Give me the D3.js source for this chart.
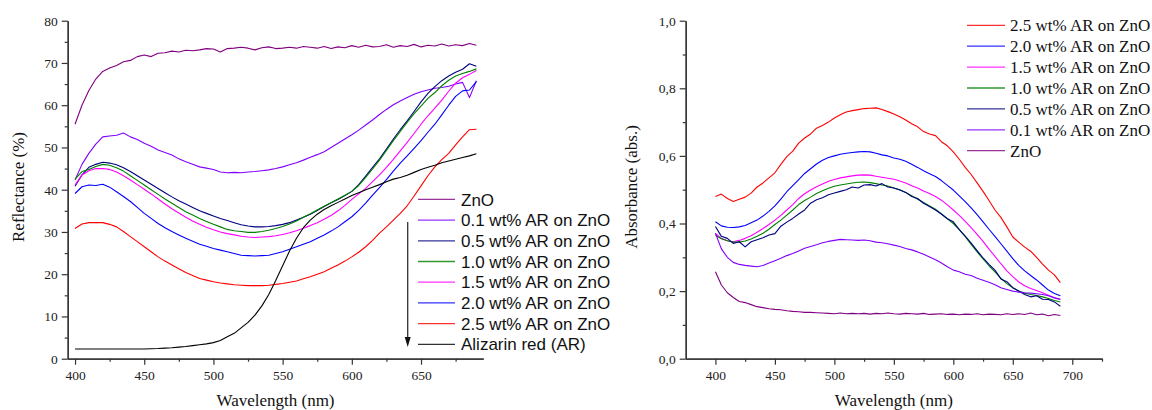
<!DOCTYPE html>
<html><head><meta charset="utf-8">
<script src="https://cdn.jsdelivr.net/npm/d3@7"></script>
<style>
body{margin:0;background:#fff}svg{display:block}
.serif{font-family:"Liberation Serif",Tinos,"Times New Roman",Times,"DejaVu Serif",serif}
.sans{font-family:"Liberation Sans",Arial,sans-serif}
</style>
</head><body>
<svg id="c" width="1152" height="410"></svg>
<script>
// ---------- DATA ----------
const wavelengths = [400,405,410,415,420,425,430,435,440,445,450,455,460,465,470,475,480,485,490,495,500,505,510,515,520,525,530,535,540,545,550,555,560,565,570,575,580,585,590,595,600,605,610,615,620,625,630,635,640,645,650,655,660,665,670,675,680,685,690];

// Left panel: Reflectance (%)
const reflZnO  = [55.5,60,63.5,66.2,68,68.8,69.4,70.3,70.6,71.5,71.9,71.5,72.3,72.4,72.8,72.6,73,72.9,73.1,73.4,73.3,72.6,73.4,73.5,73.7,73.5,73.1,73.6,73.8,73.4,73.5,73.7,73.5,73.9,73.7,73.5,73.9,73.4,73.8,73.6,74.1,73.7,74.2,73.8,73.9,74.3,73.7,74.1,73.9,74.4,73.8,74.2,74,74.5,74,74.3,74.1,74.6,74.2];
const refl01   = [42.3,46,48.6,50.8,52.5,52.7,52.9,53.4,52.5,51.9,51,50.3,49.4,48.8,48.2,47.3,46.6,46,45.4,45.1,44.8,44.2,44,44.1,44,44.2,44.3,44.5,44.7,45,45.4,45.9,46.4,47,47.7,48.3,49,50,51,52,53,54.1,55.3,56.5,57.8,59,60.1,61,61.8,62.6,63.2,63.6,64,64.2,64.5,65,65.4,61.8,65.8];
const refl05   = [40.8,43.5,45.3,46,46.5,46.3,45.9,45.2,44.3,43.3,42.3,41.3,40.3,39.3,38.3,37.4,36.6,35.8,35,34.4,33.8,33.2,32.7,32.2,31.7,31.4,31.2,31.2,31.3,31.5,31.8,32.2,32.8,33.5,34.2,35.1,36,36.9,37.7,38.6,39.6,41.2,43.2,45.3,47.3,49.6,52,54.2,56.3,58.5,60.8,62.8,64.4,65.8,66.9,67.8,68.5,69.8,69.2];
const refl10   = [42.5,44.3,44.8,45.5,46,45.8,45.2,44.4,43.3,42.2,41.1,40,38.9,37.8,36.8,35.8,34.8,34,33.2,32.5,31.8,31.2,30.6,30.3,30.1,29.9,29.9,30.1,30.4,30.8,31.3,31.9,32.6,33.5,34.3,35.2,36.1,36.9,37.8,38.7,39.6,41,42.9,44.9,47,49.3,51.6,53.8,55.9,58,59.8,61.6,63,64.6,65.9,66.9,67.5,68,68.6];
const refl15   = [41.1,43.5,44.5,45,45,44.8,44.2,43.3,42.3,41.2,40.1,39,37.8,36.6,35.5,34.5,33.5,32.6,31.8,31.1,30.5,30,29.6,29.3,29,28.8,28.7,28.8,28.9,29.1,29.4,29.8,30.3,30.9,31.5,32.2,33,33.9,35,36.3,37.7,39,40.3,41.9,43.5,45.3,47.2,49.2,51.2,53.3,55.5,57.5,59.3,61.2,63.3,65.2,66.5,67.3,68.2];
const refl20   = [39.1,40.7,41.1,41,41.3,40.6,39.5,38.4,37.2,35.8,34.4,33.2,32,31,30.1,29.3,28.5,27.8,27.1,26.6,26.1,25.7,25.3,24.9,24.5,24.4,24.3,24.4,24.5,24.9,25.3,25.9,26.5,27.1,27.7,28.5,29.3,30.2,31.2,32.4,33.6,35.1,36.8,38.7,40.5,42.4,44.4,46.3,48,49.8,51.6,53.6,55.5,57.7,60,62.1,63.4,63.6,65.6];
const refl25   = [30.8,31.9,32.2,32.2,32.2,31.8,31.2,30.1,28.9,27.7,26.5,25.3,24.1,23.1,22.2,21.3,20.4,19.7,19,18.6,18.2,17.9,17.7,17.5,17.4,17.3,17.3,17.3,17.4,17.6,17.8,18.1,18.4,18.9,19.4,20,20.6,21.4,22.2,23.1,24.1,25.2,26.5,28,29.7,31.2,32.8,34.4,36.2,38.5,40.9,43.3,45.4,47.1,48.6,50.6,52.5,54.2,54.3];
const reflAR   = [2.3,2.3,2.3,2.3,2.3,2.3,2.3,2.3,2.3,2.3,2.3,2.35,2.4,2.5,2.6,2.75,2.9,3.1,3.3,3.5,3.8,4.3,5.2,6,7.3,8.6,10.3,12.5,15.2,18.5,22,25.5,28.5,31,32.8,34.2,35.3,36.2,37,37.8,38.6,39.3,40,40.6,41.2,41.9,42.5,42.9,43.4,44.1,44.8,45.3,45.8,46.4,46.8,47.2,47.6,48,48.5];

// Right panel: Absorbance (abs.)
const absZnO = [0.257,0.218,0.195,0.181,0.169,0.166,0.16,0.154,0.151,0.148,0.146,0.145,0.142,0.14,0.139,0.137,0.137,0.136,0.135,0.134,0.133,0.135,0.133,0.134,0.133,0.134,0.132,0.134,0.133,0.135,0.133,0.132,0.134,0.133,0.132,0.134,0.131,0.132,0.133,0.131,0.132,0.13,0.132,0.131,0.133,0.13,0.132,0.131,0.13,0.133,0.131,0.133,0.131,0.135,0.13,0.132,0.127,0.131,0.128];
const abs01  = [0.371,0.325,0.3,0.285,0.279,0.276,0.274,0.272,0.276,0.283,0.29,0.297,0.305,0.311,0.319,0.327,0.332,0.337,0.343,0.347,0.35,0.353,0.352,0.351,0.35,0.351,0.349,0.345,0.343,0.34,0.336,0.332,0.326,0.322,0.316,0.309,0.301,0.293,0.283,0.272,0.262,0.257,0.25,0.246,0.238,0.232,0.226,0.219,0.21,0.205,0.2,0.197,0.195,0.194,0.192,0.19,0.186,0.18,0.176];
const abs05  = [0.391,0.362,0.356,0.341,0.346,0.331,0.346,0.352,0.358,0.366,0.37,0.392,0.404,0.415,0.428,0.44,0.46,0.47,0.476,0.485,0.49,0.495,0.5,0.508,0.505,0.514,0.515,0.511,0.518,0.508,0.505,0.499,0.492,0.48,0.474,0.46,0.45,0.44,0.428,0.414,0.405,0.382,0.363,0.342,0.32,0.298,0.279,0.262,0.236,0.228,0.21,0.2,0.19,0.183,0.186,0.176,0.175,0.168,0.155];
const abs10  = [0.365,0.355,0.349,0.345,0.345,0.348,0.354,0.362,0.371,0.383,0.397,0.41,0.425,0.44,0.456,0.468,0.478,0.489,0.497,0.504,0.51,0.514,0.517,0.52,0.522,0.523,0.521,0.518,0.514,0.511,0.505,0.5,0.492,0.482,0.472,0.462,0.452,0.442,0.428,0.414,0.4,0.382,0.361,0.338,0.316,0.295,0.275,0.257,0.238,0.222,0.21,0.2,0.194,0.19,0.187,0.183,0.178,0.172,0.168];
const abs15  = [0.371,0.356,0.349,0.346,0.35,0.356,0.364,0.374,0.385,0.397,0.41,0.424,0.44,0.456,0.474,0.488,0.499,0.509,0.517,0.525,0.53,0.535,0.538,0.541,0.543,0.544,0.543,0.54,0.537,0.534,0.531,0.526,0.52,0.512,0.505,0.496,0.489,0.48,0.469,0.455,0.44,0.424,0.406,0.388,0.368,0.347,0.324,0.303,0.281,0.26,0.243,0.227,0.216,0.208,0.202,0.195,0.188,0.18,0.175];
const abs20  = [0.405,0.393,0.389,0.388,0.39,0.394,0.402,0.41,0.422,0.436,0.452,0.472,0.494,0.512,0.53,0.548,0.562,0.576,0.587,0.595,0.6,0.605,0.608,0.61,0.612,0.613,0.612,0.608,0.603,0.6,0.594,0.59,0.584,0.575,0.566,0.556,0.547,0.539,0.527,0.513,0.499,0.482,0.465,0.446,0.426,0.405,0.383,0.362,0.34,0.318,0.296,0.276,0.26,0.246,0.233,0.218,0.203,0.193,0.186];
const abs25  = [0.48,0.487,0.474,0.465,0.472,0.478,0.49,0.508,0.52,0.535,0.55,0.575,0.598,0.614,0.638,0.653,0.665,0.682,0.69,0.7,0.712,0.722,0.73,0.734,0.737,0.74,0.741,0.742,0.737,0.731,0.724,0.716,0.706,0.695,0.686,0.672,0.665,0.66,0.642,0.63,0.612,0.59,0.566,0.545,0.52,0.495,0.468,0.44,0.418,0.39,0.36,0.345,0.33,0.318,0.3,0.28,0.262,0.248,0.225];

const leftLabels  = ["ZnO","0.1 wt% AR on ZnO","0.5 wt% AR on ZnO","1.0 wt% AR on ZnO","1.5 wt% AR on ZnO","2.0 wt% AR on ZnO","2.5 wt% AR on ZnO","Alizarin red (AR)"];
const rightLabels = ["2.5 wt% AR on ZnO","2.0 wt% AR on ZnO","1.5 wt% AR on ZnO","1.0 wt% AR on ZnO","0.5 wt% AR on ZnO","0.1 wt% AR on ZnO","ZnO"];
const leftColors  = ["#800080","#8000ff","#000080","#008000","#ff00ff","#0000ff","#ff0000","#000000"];
const rightColors = ["#ff0000","#0000ff","#ff00ff","#008000","#000080","#8000ff","#800080"];
const leftSeries  = [reflZnO, refl01, refl05, refl10, refl15, refl20, refl25, reflAR];
const rightSeries = [abs25, abs20, abs15, abs10, abs05, abs01, absZnO];

const leftXTicks = [400,450,500,550,600,650];
const leftXMinor = [425,475,525,575,625,675];
const leftYTicks = [0,10,20,30,40,50,60,70,80];
const leftYMinor = [5,15,25,35,45,55,65,75];
const rightXTicks = [400,450,500,550,600,650,700];
const rightXMinor = [425,475,525,575,625,675,725];
const rightYTicks = [0,0.2,0.4,0.6,0.8,1.0];
const rightYMinor = [0.1,0.3,0.5,0.7,0.9];

// ---------- DRAW ----------
const svg = d3.select("#c");

function panel(cfg) {
  const x = d3.scaleLinear().domain(cfg.xd).range(cfg.xr);
  const y = d3.scaleLinear().domain(cfg.yd).range(cfg.yr);
  const g = svg.append("g");
  const axColor = "#333";
  g.append("g").attr("transform", `translate(0,${cfg.yr[0]})`)
    .call(d3.axisBottom(x).tickValues(cfg.xMinor).tickSize(3).tickFormat("").tickSizeOuter(0));
  g.append("g").attr("transform", `translate(${cfg.xr[0]},0)`)
    .call(d3.axisLeft(y).tickValues(cfg.yMinor).tickSize(3).tickFormat("").tickSizeOuter(0));
  g.append("g").attr("transform", `translate(0,${cfg.yr[0]})`)
    .call(d3.axisBottom(x).tickValues(cfg.xTicks).tickSize(6).tickPadding(6).tickSizeOuter(0).tickFormat(d3.format("d")));
  g.append("g").attr("transform", `translate(${cfg.xr[0]},0)`)
    .call(d3.axisLeft(y).tickValues(cfg.yTicks).tickSize(6).tickPadding(4).tickSizeOuter(0).tickFormat(cfg.yFmt));
  g.selectAll("g").attr("font-family", null);
  g.selectAll(".domain").attr("stroke", axColor).attr("stroke-width", 1.3);
  g.selectAll(".tick line").attr("stroke", axColor).attr("stroke-width", 1.2);
  g.selectAll(".tick text").attr("class", "serif").style("font-size", "13.5px").attr("fill", "#222");
  const line = d3.line().x((d, i) => x(wavelengths[i])).y(d => y(d));
  cfg.series.forEach((s, i) => {
    g.append("path").attr("d", line(s)).attr("fill", "none")
      .attr("stroke", cfg.colors[i]).attr("stroke-width", 1.1).attr("stroke-linejoin", "round");
  });
  g.append("text").attr("class", "serif").attr("x", (cfg.xr[0] + cfg.xr[1]) / 2).attr("y", 406)
    .attr("text-anchor", "middle").style("font-size", "17px").attr("fill", "#111")
    .text("Wavelength (nm)");
  g.append("text").attr("class", "serif").attr("transform", `translate(${cfg.ylabX},187) rotate(-90)`)
    .attr("text-anchor", "middle").style("font-size", "17px").attr("fill", "#111")
    .text(cfg.ylab);
  return {x, y, g};
}

panel({
  xd: [394.7, 695], xr: [67.7, 483.3], yd: [0, 80], yr: [358.7, 20.7],
  xTicks: leftXTicks, xMinor: leftXMinor, yTicks: leftYTicks, yMinor: leftYMinor,
  yFmt: d3.format("d"), series: leftSeries, colors: leftColors,
  ylab: "Reflectance (%)", ylabX: 24
});
panel({
  xd: [375, 725], xr: [685.7, 1102], yd: [0, 1], yr: [358.7, 20.7],
  xTicks: rightXTicks, xMinor: rightXMinor, yTicks: rightYTicks, yMinor: rightYMinor,
  yFmt: d => d3.format(".1f")(d).replace(".", ","), series: rightSeries, colors: rightColors,
  ylab: "Absorbance (abs.)", ylabX: 637
});

const lg = svg.append("g");
leftLabels.forEach((t, i) => {
  const yy = 199.4 + i * 20.7;
  lg.append("line").attr("x1", 418).attr("x2", 455).attr("y1", yy).attr("y2", yy)
    .attr("stroke", leftColors[i]).attr("stroke-width", 1.3).attr("opacity", 0.8);
  lg.append("text").attr("class", "sans").attr("x", 461).attr("y", yy).attr("dy", "0.36em")
    .style("font-size", "17px").attr("fill", "#111").text(t);
});
lg.append("line").attr("x1", 407.7).attr("x2", 407.7).attr("y1", 222).attr("y2", 340)
  .attr("stroke", "#333").attr("stroke-width", 1.3);
lg.append("path").attr("d", d3.line()([[404.7, 337], [410.7, 337], [407.7, 347]])).attr("fill", "#111");

const rg = svg.append("g");
rightLabels.forEach((t, i) => {
  const yy = 25.3 + i * 20.9;
  rg.append("line").attr("x1", 967).attr("x2", 1005).attr("y1", yy).attr("y2", yy)
    .attr("stroke", rightColors[i]).attr("stroke-width", 1.3).attr("opacity", 0.8);
  rg.append("text").attr("class", "serif").attr("x", 1010).attr("y", yy).attr("dy", "0.36em")
    .style("font-size", "17px").attr("fill", "#111").text(t);
});
</script>
</body></html>
